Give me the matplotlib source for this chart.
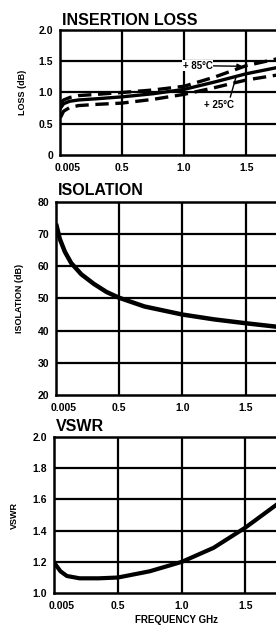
import matplotlib.pyplot as plt
import matplotlib.transforms as mtransforms

plt.rcParams['font.family'] = ['Liberation Sans', 'DejaVu Sans']
plt.rcParams['font.weight'] = 'bold'

# insertion loss (dB) vs frequency (GHz)
il_freq = [0.005, 0.03, 0.08, 0.15, 0.3, 0.5, 0.75, 1.0, 1.25, 1.5, 1.75]
il_25c = [0.75, 0.82, 0.86, 0.88, 0.9, 0.93, 0.98, 1.05, 1.17, 1.3, 1.4]
il_85c = [0.82, 0.88, 0.92, 0.95, 0.97, 1.0, 1.04, 1.1, 1.25, 1.43, 1.54]
il_low = [0.6, 0.7, 0.76, 0.79, 0.81, 0.83, 0.89, 0.97, 1.08, 1.2, 1.28]

# isolation (dB)
iso_freq = [0.005, 0.03, 0.07, 0.12, 0.2, 0.3, 0.4, 0.5, 0.7, 1.0, 1.25, 1.5, 1.75]
iso_db = [72.5, 68.5, 64.5, 61.0, 57.5, 54.5, 52.0, 50.2, 47.5, 45.0, 43.5, 42.3, 41.2]

# VSWR
vswr_freq = [0.005, 0.05, 0.1, 0.2, 0.35, 0.5, 0.75, 1.0, 1.25, 1.5, 1.75]
vswr = [1.19, 1.14, 1.11, 1.095, 1.095, 1.1, 1.14, 1.2, 1.29, 1.42, 1.57]

x_ticks = [0.005, 0.5, 1.0, 1.5]
x_ticklabels = ['0.005', '0.5', '1.0', '1.5']

fig = plt.figure(figsize=(2.76, 6.27), dpi=100)


def setup(ax, yticks, ylabels, ylabel, title, ylabelpad):
    ax.set_xlim(0, 1.74)
    ax.set_ylim(yticks[0], yticks[-1])
    ax.set_xticks(x_ticks)
    ax.set_xticklabels(x_ticklabels, fontsize=7.5, fontweight='bold')
    ax.set_yticks(yticks)
    ax.set_yticklabels(ylabels, fontsize=7.5, fontweight='bold')
    ax.tick_params(axis='x', length=0, pad=6)
    ax.tick_params(axis='y', length=0, pad=5)
    # first frequency label sits a little to the right of the corner
    first = ax.get_xticklabels()[0]
    first.set_transform(first.get_transform() +
                        mtransforms.ScaledTranslation(5 / 72, 0, fig.dpi_scale_trans))
    for t in x_ticks[1:]:
        ax.axvline(t, color='black', lw=1.6, zorder=1)
    for t in yticks[1:-1]:
        ax.axhline(t, color='black', lw=1.6, zorder=1)
    for s in ['left', 'bottom', 'top']:
        ax.spines[s].set_linewidth(1.8)
    ax.spines['right'].set_visible(False)
    ax.set_ylabel(ylabel, fontsize=6.5, fontweight='bold', labelpad=ylabelpad)
    ax.text(0.01, 1.02, title, transform=ax.transAxes, fontsize=11.5,
            fontweight='bold', ha='left', va='bottom')


ax1 = fig.add_axes([0.217, 0.753, 0.783, 0.199])
setup(ax1, [0, 0.5, 1.0, 1.5, 2.0], ['0', '0.5', '1.0', '1.5', '2.0'],
      'LOSS (dB)', 'INSERTION LOSS', 8)
ax1.plot(il_freq, il_25c, color='black', lw=2.4, zorder=3)
ax1.plot(il_freq, il_85c, color='black', lw=2.4, dashes=(4, 2), zorder=3)
ax1.plot(il_freq, il_low, color='black', lw=2.4, dashes=(4, 2), zorder=3)
ax1.annotate('+ 85°C', xy=(1.47, 1.42), xytext=(0.99, 1.43), fontsize=7,
             fontweight='bold', va='center',
             bbox=dict(fc='white', ec='none', pad=0.5),
             arrowprops=dict(arrowstyle='-|>', color='black', lw=1, shrinkA=0, shrinkB=0))
ax1.annotate('+ 25°C', xy=(1.42, 1.26), xytext=(1.16, 0.8), fontsize=7,
             fontweight='bold', va='center',
             arrowprops=dict(arrowstyle='-', color='black', lw=1, shrinkA=0, shrinkB=0,
                             relpos=(0.85, 1.0)))

ax2 = fig.add_axes([0.203, 0.370, 0.797, 0.308])
setup(ax2, [20, 30, 40, 50, 60, 70, 80], ['20', '30', '40', '50', '60', '70', '80'],
      'ISOLATION (dB)', 'ISOLATION', 10)
ax2.plot(iso_freq, iso_db, color='black', lw=3.2, zorder=3)

ax3 = fig.add_axes([0.196, 0.054, 0.804, 0.249])
setup(ax3, [1.0, 1.2, 1.4, 1.6, 1.8, 2.0], ['1.0', '1.2', '1.4', '1.6', '1.8', '2.0'],
      'VSWR', 'VSWR', 10)
ax3.plot(vswr_freq, vswr, color='black', lw=3, zorder=3)
ax3.set_xlabel('FREQUENCY GHz', fontsize=7, fontweight='bold')
ax3.xaxis.set_label_coords(0.55, -0.14)

fig.savefig('out.png', dpi=100)
